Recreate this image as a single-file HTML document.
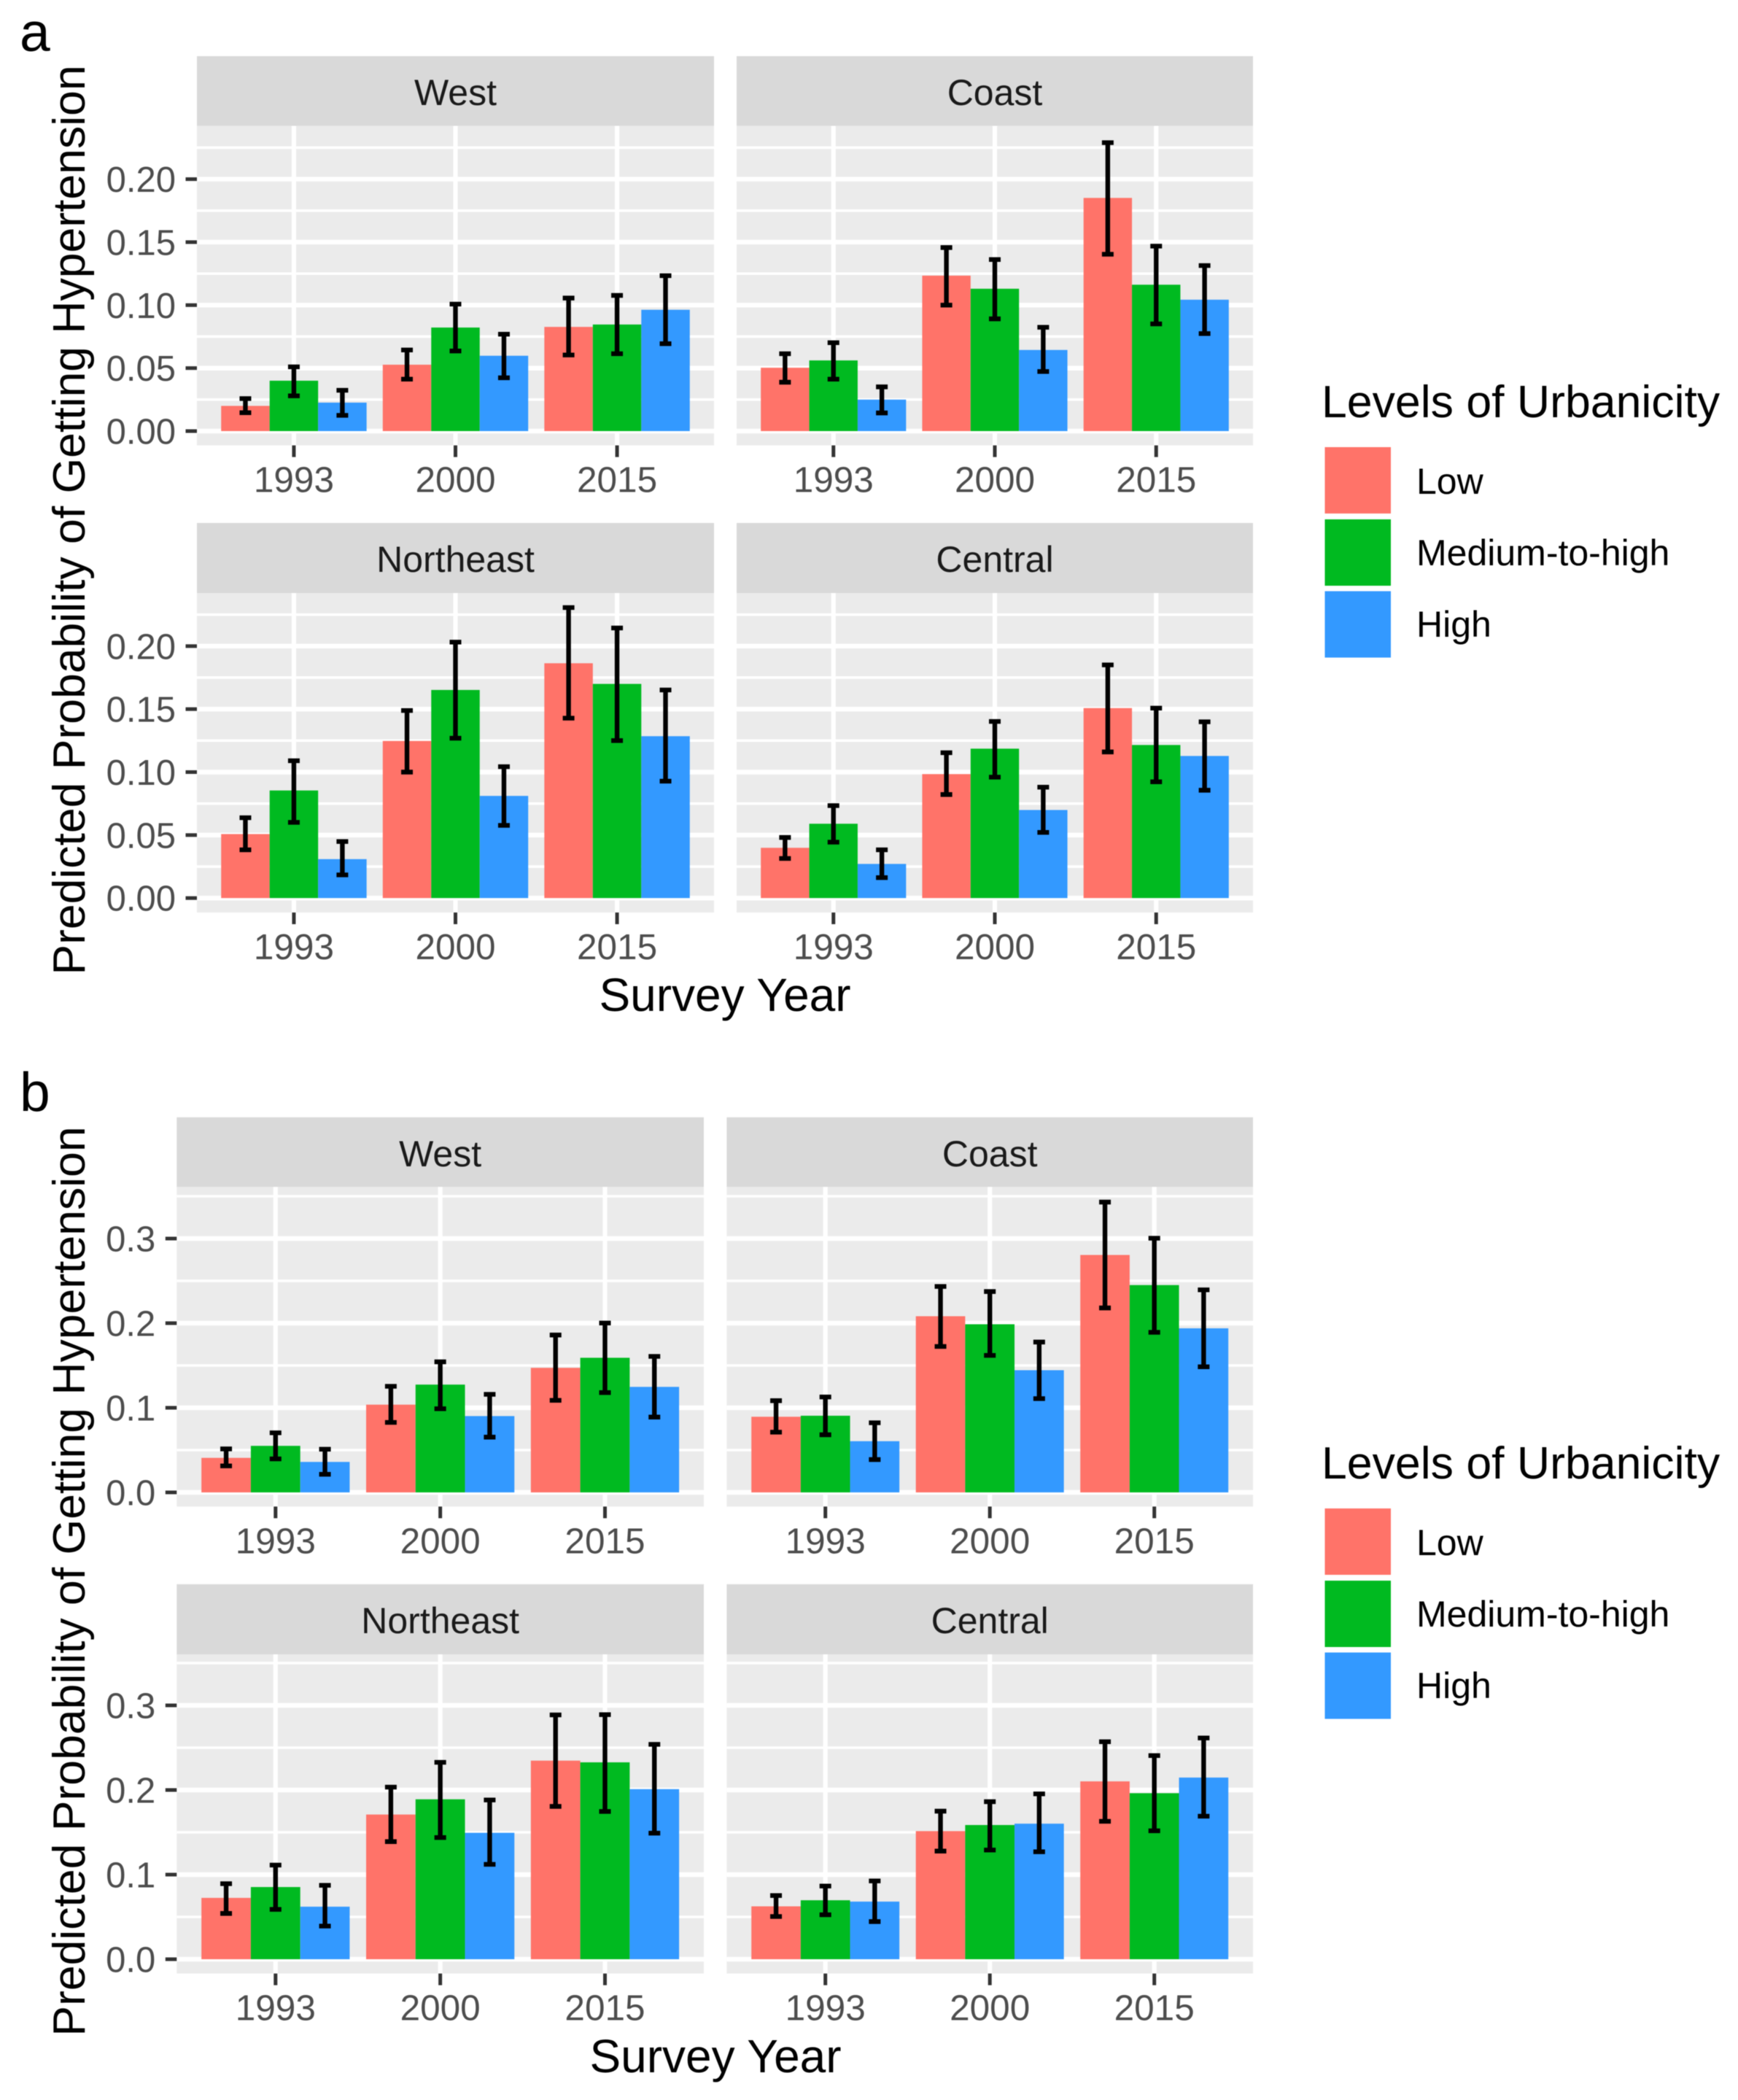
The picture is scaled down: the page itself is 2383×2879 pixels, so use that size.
<!DOCTYPE html>
<html lang="en">
<head>
<meta charset="utf-8">
<title>Predicted Probability of Getting Hypertension by Survey Year</title>
<style>
html,body{margin:0;padding:0;background:#fff;}
svg{display:block;filter:blur(0.6px);}
text{font-family:"Liberation Sans",Arial,sans-serif;}
.axis-title{font-size:62.5px;fill:#000;}
.x-title{font-size:64px;fill:#000;}
.legend-title{font-size:62.6px;fill:#000;}
.legend-label{font-size:50px;fill:#000;}
.panel-letter{font-size:75px;fill:#000;}
.tick-label{font-size:49px;fill:#4D4D4D;}
.x-tick-text{font-size:49.5px;fill:#4D4D4D;}
.strip-label{font-size:50px;fill:#1A1A1A;}
</style>
</head>
<body>
<svg id="chart" xmlns="http://www.w3.org/2000/svg" width="2383" height="2879" viewBox="0 0 2383 2879">
  <rect x="0" y="0" width="2383" height="2879" fill="#ffffff"/>
  <g id="plots"></g>

  <text class="panel-letter" x="27" y="70">a</text>
  <text class="axis-title" text-anchor="middle" transform="translate(116 713) rotate(-90)">Predicted Probability of Getting Hypertension</text>
  <text class="x-title" text-anchor="middle" x="994" y="1386">Survey Year</text>
  <g>
    <text class="legend-title" x="1812" y="572">Levels of Urbanicity</text>
    <rect x="1816.5" y="613" width="90.5" height="91" fill="#FF7369"/>
    <text class="legend-label" x="1942" y="677">Low</text>
    <rect x="1816.5" y="712" width="90.5" height="91" fill="#00BA20"/>
    <text class="legend-label" x="1942" y="775">Medium-to-high</text>
    <rect x="1816.5" y="810.5" width="90.5" height="91" fill="#3399FF"/>
    <text class="legend-label" x="1942" y="873">High</text>
  </g>

  <text class="panel-letter" x="27" y="1523">b</text>
  <text class="axis-title" text-anchor="middle" transform="translate(116 2168) rotate(-90)">Predicted Probability of Getting Hypertension</text>
  <text class="x-title" text-anchor="middle" x="981" y="2841">Survey Year</text>
  <g>
    <text class="legend-title" x="1812" y="2027">Levels of Urbanicity</text>
    <rect x="1816.5" y="2068" width="90.5" height="91" fill="#FF7369"/>
    <text class="legend-label" x="1942" y="2132">Low</text>
    <rect x="1816.5" y="2167" width="90.5" height="91" fill="#00BA20"/>
    <text class="legend-label" x="1942" y="2230">Medium-to-high</text>
    <rect x="1816.5" y="2265.5" width="90.5" height="91" fill="#3399FF"/>
    <text class="legend-label" x="1942" y="2328">High</text>
  </g>
</svg>

<script>
// ---------- shared categories ----------
const surveyYears = ['1993', '2000', '2015'];
const urbanicityLevels = ['low', 'medium-to-high', 'high'];

// ---------- axis ticks ----------
const aYTicks = [0, 0.05, 0.10, 0.15, 0.20];
const aYTickLabels = ['0.00', '0.05', '0.10', '0.15', '0.20'];
const aYMinorTicks = [0.025, 0.075, 0.125, 0.175, 0.225];
const bYTicks = [0, 0.1, 0.2, 0.3];
const bYTickLabels = ['0.0', '0.1', '0.2', '0.3'];
const bYMinorTicks = [0.05, 0.15, 0.25, 0.35];

// ---------- figure a values: order = 1993 L/M/H, 2000 L/M/H, 2015 L/M/H ----------
const aWestMean = [0.020, 0.040, 0.0226, 0.0527, 0.0822, 0.0598, 0.0827, 0.0846, 0.0963];
const aWestUpper = [0.0258, 0.051, 0.0324, 0.0644, 0.1008, 0.0769, 0.1056, 0.1077, 0.1234];
const aWestLower = [0.0146, 0.028, 0.0125, 0.0412, 0.0636, 0.0423, 0.0604, 0.0614, 0.0694];

const aCoastMean = [0.0503, 0.0561, 0.025, 0.1234, 0.113, 0.0644, 0.1851, 0.1162, 0.1043];
const aCoastUpper = [0.0614, 0.0702, 0.0351, 0.1457, 0.1362, 0.0824, 0.229, 0.1468, 0.1314];
const aCoastLower = [0.0388, 0.0412, 0.0144, 0.100, 0.0891, 0.0473, 0.1404, 0.0851, 0.0774];

const aNortheastMean = [0.0508, 0.0854, 0.0309, 0.1247, 0.1652, 0.0811, 0.1864, 0.170, 0.1285];
const aNortheastUpper = [0.0638, 0.109, 0.0449, 0.1489, 0.2032, 0.1043, 0.2306, 0.2144, 0.1652];
const aNortheastLower = [0.0383, 0.0601, 0.0184, 0.100, 0.1269, 0.0577, 0.1428, 0.125, 0.0928];

const aCentralMean = [0.0399, 0.059, 0.0271, 0.0984, 0.1186, 0.0699, 0.1508, 0.1215, 0.1128];
const aCentralUpper = [0.0481, 0.0734, 0.0383, 0.1154, 0.1402, 0.088, 0.1851, 0.1508, 0.1399];
const aCentralLower = [0.0314, 0.0444, 0.0162, 0.0822, 0.096, 0.0521, 0.116, 0.0923, 0.0856];

// ---------- figure b values ----------
const bWestMean = [0.0408, 0.055, 0.036, 0.1037, 0.1274, 0.0902, 0.1472, 0.1591, 0.1247];
const bWestUpper = [0.0514, 0.0704, 0.051, 0.1254, 0.1543, 0.1159, 0.186, 0.2002, 0.1607];
const bWestLower = [0.0313, 0.0396, 0.0214, 0.0827, 0.0989, 0.0653, 0.1088, 0.1179, 0.089];

const bCoastMean = [0.0894, 0.0906, 0.0605, 0.2082, 0.1987, 0.1444, 0.2806, 0.245, 0.1939];
const bCoastUpper = [0.1084, 0.1128, 0.0823, 0.2434, 0.2374, 0.1777, 0.3431, 0.3004, 0.2394];
const bCoastLower = [0.0712, 0.0681, 0.0388, 0.1725, 0.1619, 0.1108, 0.218, 0.1892, 0.1484];

const bNortheastMean = [0.0725, 0.0853, 0.0621, 0.171, 0.189, 0.1494, 0.2347, 0.2327, 0.201];
const bNortheastUpper = [0.0893, 0.1113, 0.0873, 0.2034, 0.2327, 0.1882, 0.2887, 0.2891, 0.2539];
const bNortheastLower = [0.0541, 0.0589, 0.0392, 0.139, 0.1438, 0.1121, 0.1806, 0.1746, 0.149];

const bCentralMean = [0.0625, 0.0697, 0.0681, 0.1514, 0.1586, 0.1602, 0.2102, 0.1962, 0.2147];
const bCentralUpper = [0.0753, 0.0865, 0.0925, 0.175, 0.1862, 0.1954, 0.2571, 0.2407, 0.2615];
const bCentralLower = [0.0505, 0.0525, 0.0445, 0.1278, 0.129, 0.127, 0.163, 0.1518, 0.169];

// ---------- drawing ----------
const SVG_NS = 'http://www.w3.org/2000/svg';
const levelColors = ['#FF7369', '#00BA20', '#3399FF'];
const plots = document.getElementById('plots');

function make(tag, attrs, parent) {
  const el = document.createElementNS(SVG_NS, tag);
  Object.keys(attrs).forEach(function (k) { el.setAttribute(k, attrs[k]); });
  parent.appendChild(el);
  return el;
}

function drawPanel(cfg) {
  const prefix = cfg.fig + '-' + cfg.title.toLowerCase();
  const g = make('g', {}, plots);
  
  

  const unit = cfg.width / 3.2;
  const xCenter = function (i) { return cfg.left + (0.6 + i) * unit; };
  const xBar = function (i, j) { return xCenter(i) + (j - 1.5) * 0.3 * unit; };
  const yPos = function (v) { return cfg.zero - v * cfg.pxPerUnit; };
  const right = cfg.left + cfg.width;

  const strip = make('rect', { x: cfg.left, y: cfg.top, width: cfg.width, height: cfg.panelTop - cfg.top, fill: '#D9D9D9' }, g);
  
  

  const stripText = make('text', { x: cfg.left + cfg.width / 2, y: cfg.top + 67, 'text-anchor': 'middle', 'class': 'strip-label' }, g);
  
  
  stripText.textContent = cfg.title;

  const bg = make('rect', { x: cfg.left, y: cfg.panelTop, width: cfg.width, height: cfg.bottom - cfg.panelTop, fill: '#EBEBEB' }, g);
  
  

  cfg.minor.forEach(function (v) {
    const line = make('line', { x1: cfg.left, x2: right, y1: yPos(v), y2: yPos(v), stroke: '#fff', 'stroke-width': 3.6 }, g);
    
    
  });
  cfg.ticks.forEach(function (v, k) {
    const line = make('line', { x1: cfg.left, x2: right, y1: yPos(v), y2: yPos(v), stroke: '#fff', 'stroke-width': 6.4 }, g);
    
    
    if (cfg.showY) {
      const tick = make('line', { x1: cfg.left - 15.5, x2: cfg.left, y1: yPos(v), y2: yPos(v), stroke: '#333', 'stroke-width': 5 }, g);
      
      
      const label = make('text', { x: cfg.left - 29, y: yPos(v) + 17.5, 'text-anchor': 'end', 'class': 'tick-label' }, g);
      
      
      label.textContent = cfg.tickLabels[k];
    }
  });
  surveyYears.forEach(function (year, i) {
    const line = make('line', { x1: xCenter(i), x2: xCenter(i), y1: cfg.panelTop, y2: cfg.bottom, stroke: '#fff', 'stroke-width': 6.2 }, g);
    
    
    const tick = make('line', { x1: xCenter(i), x2: xCenter(i), y1: cfg.bottom, y2: cfg.bottom + 16, stroke: '#333', 'stroke-width': 5 }, g);
    
    
    const label = make('text', { x: xCenter(i), y: cfg.bottom + 64, 'text-anchor': 'middle', 'class': 'x-tick-text' }, g);
    
    
    label.textContent = year;
  });

  surveyYears.forEach(function (year, i) {
    urbanicityLevels.forEach(function (level, j) {
      const idx = i * 3 + j;
      const top = yPos(cfg.mean[idx]);
      const bar = make('rect', { x: xBar(i, j), y: top, width: 0.3 * unit, height: cfg.zero - top, fill: levelColors[j] }, g);
      
      
    });
  });
  surveyYears.forEach(function (year, i) {
    urbanicityLevels.forEach(function (level, j) {
      const idx = i * 3 + j;
      const cx = xBar(i, j) + 0.15 * unit;
      const hi = yPos(cfg.upper[idx]);
      const lo = yPos(cfg.lower[idx]);
      const d = 'M' + (cx - 8) + ' ' + hi + 'H' + (cx + 8) + 'M' + cx + ' ' + hi + 'V' + lo + 'M' + (cx - 8) + ' ' + lo + 'H' + (cx + 8);
      const err = make('path', { d: d, fill: 'none', stroke: '#000', 'stroke-width': 6.4 }, g);
      
      
    });
  });
}

const aScale = { fig: 'a', pxPerUnit: 1727, ticks: aYTicks, tickLabels: aYTickLabels, minor: aYMinorTicks };
const bScale = { fig: 'b', pxPerUnit: 1160, ticks: bYTicks, tickLabels: bYTickLabels, minor: bYMinorTicks };

drawPanel(Object.assign({}, aScale, { title: 'West', left: 270, width: 709, top: 77, panelTop: 172.6, bottom: 610.6, zero: 591, showY: true, mean: aWestMean, upper: aWestUpper, lower: aWestLower }));
drawPanel(Object.assign({}, aScale, { title: 'Coast', left: 1010, width: 708, top: 77, panelTop: 172.6, bottom: 610.6, zero: 591, showY: false, mean: aCoastMean, upper: aCoastUpper, lower: aCoastLower }));
drawPanel(Object.assign({}, aScale, { title: 'Northeast', left: 270, width: 709, top: 717, panelTop: 813, bottom: 1251, zero: 1231.2, showY: true, mean: aNortheastMean, upper: aNortheastUpper, lower: aNortheastLower }));
drawPanel(Object.assign({}, aScale, { title: 'Central', left: 1010, width: 708, top: 717, panelTop: 813, bottom: 1251, zero: 1231.2, showY: false, mean: aCentralMean, upper: aCentralUpper, lower: aCentralLower }));

drawPanel(Object.assign({}, bScale, { title: 'West', left: 242.3, width: 722.7, top: 1531.8, panelTop: 1627.3, bottom: 2065.4, zero: 2046, showY: true, mean: bWestMean, upper: bWestUpper, lower: bWestLower }));
drawPanel(Object.assign({}, bScale, { title: 'Coast', left: 996.4, width: 721.6, top: 1531.8, panelTop: 1627.3, bottom: 2065.4, zero: 2046, showY: false, mean: bCoastMean, upper: bCoastUpper, lower: bCoastLower }));
drawPanel(Object.assign({}, bScale, { title: 'Northeast', left: 242.3, width: 722.7, top: 2171.9, panelTop: 2268, bottom: 2705.6, zero: 2686, showY: true, mean: bNortheastMean, upper: bNortheastUpper, lower: bNortheastLower }));
drawPanel(Object.assign({}, bScale, { title: 'Central', left: 996.4, width: 721.6, top: 2171.9, panelTop: 2268, bottom: 2705.6, zero: 2686, showY: false, mean: bCentralMean, upper: bCentralUpper, lower: bCentralLower }));
</script>
</body>
</html>
